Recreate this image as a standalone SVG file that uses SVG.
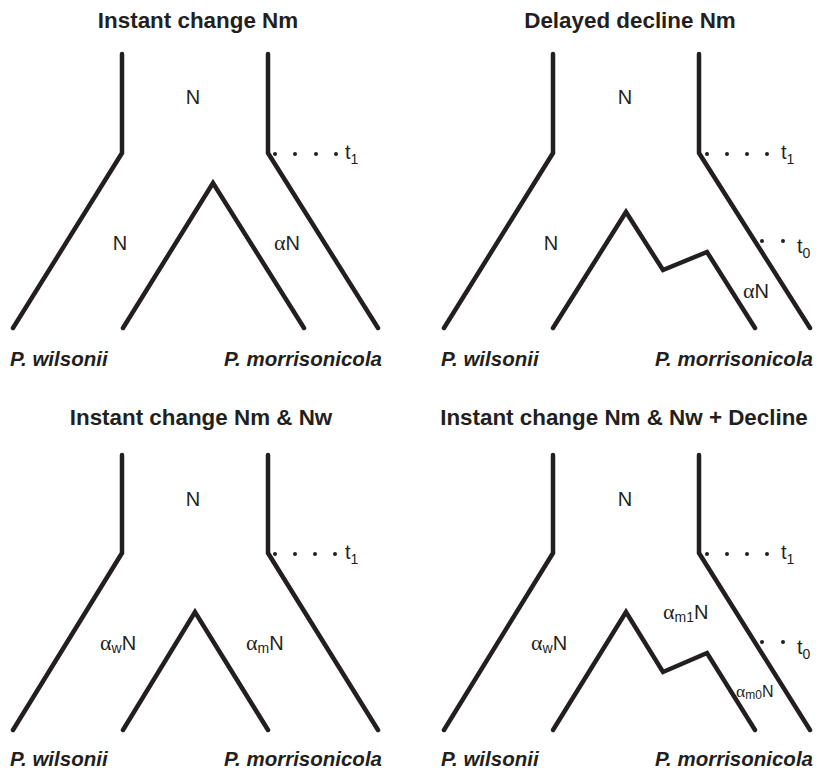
<svg xmlns="http://www.w3.org/2000/svg" width="816" height="771" viewBox="0 0 816 771">
<style>
.t{font-family:"Liberation Sans",Arial,sans-serif;font-weight:bold;font-size:22.4px;fill:#231f20;text-anchor:middle}
.l{font-family:"Liberation Sans",Arial,sans-serif;font-size:20px;fill:#231f20}
.a{font-family:"Liberation Serif","Times New Roman",serif;font-size:1.1em}
.s{font-size:14px}
.sp{font-family:"Liberation Sans",Arial,sans-serif;font-weight:bold;font-style:italic;font-size:20.5px;fill:#231f20}
.br{fill:none;stroke:#231f20;stroke-width:4.5;stroke-linecap:round;stroke-linejoin:miter}
.d{fill:#231f20}
</style>
<rect width="816" height="771" fill="#fff"/>
<g id="panel1">
  <text class="t" x="198" y="28">Instant change Nm</text>
  <g id="tree1">
    <path class="br" d="M122,54 V153 L13,328"/>
    <path class="br" d="M268,54 V153 L378,328"/>
    <path class="br" d="M123,328 L213,183 L304,328"/>
  </g>
  <text class="l" x="193" y="104" text-anchor="middle">N</text>
  <text class="l" x="120" y="250" text-anchor="middle">N</text>
  <text class="l" x="274" y="250"><tspan class="a">α</tspan>N</text>
  <g class="d"><circle cx="275" cy="154" r="2"/><circle cx="295" cy="154" r="2"/><circle cx="316" cy="154" r="2"/><circle cx="336" cy="154" r="2"/></g>
  <text class="l" x="345" y="159">t<tspan class="s" dy="5">1</tspan></text>
  <text class="sp" x="10" y="366">P. wilsonii</text>
  <text class="sp" x="224" y="366">P. morrisonicola</text>
</g>
<g id="panel2">
  <text class="t" x="630" y="28">Delayed decline Nm</text>
  <g id="tree2">
    <path class="br" d="M553,54 V153 L444,328"/>
    <path class="br" d="M699,54 V153 L810,328"/>
    <path class="br" d="M553,328 L626,212 L663,270 L707,252 L755,328"/>
  </g>
  <text class="l" x="625" y="104" text-anchor="middle">N</text>
  <text class="l" x="551" y="250" text-anchor="middle">N</text>
  <text class="l" x="743" y="298"><tspan class="a">α</tspan>N</text>
  <g class="d"><circle cx="707" cy="154" r="2"/><circle cx="727" cy="154" r="2"/><circle cx="747" cy="154" r="2"/><circle cx="767" cy="154" r="2"/><circle cx="762" cy="241" r="2"/><circle cx="783" cy="241" r="2"/></g>
  <text class="l" x="781" y="159">t<tspan class="s" dy="5">1</tspan></text>
  <text class="l" x="797" y="253">t<tspan class="s" dy="5">0</tspan></text>
  <text class="sp" x="441" y="366">P. wilsonii</text>
  <text class="sp" x="655" y="366">P. morrisonicola</text>
</g>
<g id="panel3">
  <text class="t" x="201" y="425">Instant change Nm &amp; Nw</text>
  <g id="tree3">
    <path class="br" d="M122,455 V553 L13,730"/>
    <path class="br" d="M268,455 V553 L378,730"/>
    <path class="br" d="M123,730 L195,612 L268,730"/>
  </g>
  <text class="l" x="193" y="506" text-anchor="middle">N</text>
  <text class="l" x="100" y="650"><tspan class="a">α</tspan><tspan class="s" dy="3">w</tspan><tspan dy="-3">N</tspan></text>
  <text class="l" x="246" y="650"><tspan class="a">α</tspan><tspan class="s" dy="3">m</tspan><tspan dy="-3">N</tspan></text>
  <g class="d"><circle cx="275" cy="554" r="2"/><circle cx="295" cy="554" r="2"/><circle cx="315" cy="554" r="2"/><circle cx="335" cy="554" r="2"/></g>
  <text class="l" x="345" y="559">t<tspan class="s" dy="5">1</tspan></text>
  <text class="sp" x="10" y="766">P. wilsonii</text>
  <text class="sp" x="224" y="766">P. morrisonicola</text>
</g>
<g id="panel4">
  <text class="t" x="624" y="425">Instant change Nm &amp; Nw + Decline</text>
  <g id="tree4">
    <path class="br" d="M553,455 V553 L444,730"/>
    <path class="br" d="M699,455 V553 L810,730"/>
    <path class="br" d="M553,730 L626,612 L663,672 L707,653 L755,730"/>
  </g>
  <text class="l" x="625" y="506" text-anchor="middle">N</text>
  <text class="l" x="531" y="650"><tspan class="a">α</tspan><tspan class="s" dy="3">w</tspan><tspan dy="-3">N</tspan></text>
  <text class="l" x="663" y="619"><tspan class="a">α</tspan><tspan class="s" dy="3">m1</tspan><tspan dy="-3">N</tspan></text>
  <text class="l" x="736" y="697" style="font-size:16px"><tspan class="a">α</tspan><tspan style="font-size:12px" dy="2">m0</tspan><tspan dy="-2">N</tspan></text>
  <g class="d"><circle cx="707" cy="554" r="2"/><circle cx="727" cy="554" r="2"/><circle cx="747" cy="554" r="2"/><circle cx="767" cy="554" r="2"/><circle cx="762" cy="642" r="2"/><circle cx="783" cy="642" r="2"/></g>
  <text class="l" x="781" y="559">t<tspan class="s" dy="5">1</tspan></text>
  <text class="l" x="797" y="654">t<tspan class="s" dy="5">0</tspan></text>
  <text class="sp" x="441" y="766">P. wilsonii</text>
  <text class="sp" x="655" y="766">P. morrisonicola</text>
</g>
</svg>
